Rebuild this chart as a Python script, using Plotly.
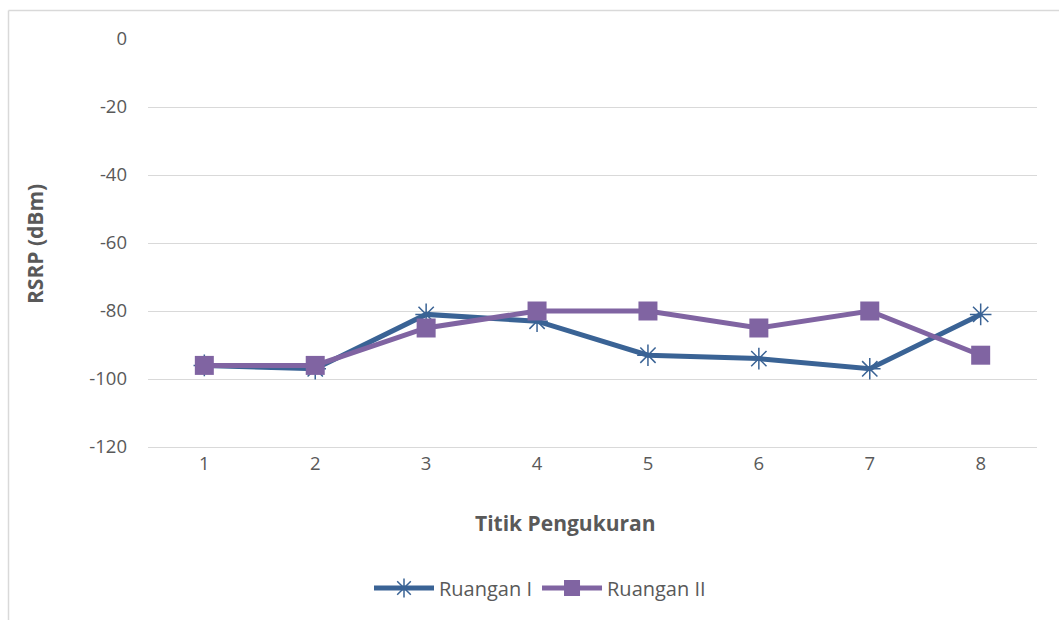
import plotly.graph_objects as go

# Measurement points and RSRP readings (dBm)
titik = ["1", "2", "3", "4", "5", "6", "7", "8"]
ruangan_1 = [-96, -97, -81, -83, -93, -94, -97, -81]
ruangan_2 = [-96, -96, -85, -80, -80, -85, -80, -93]
y_ticks = [0, -20, -40, -60, -80, -100, -120]
y_tick_text = ["0", "-20", "-40", "-60", "-80", "-100", "-120"]

W, H = 1059, 620
L, R, T, B = 148, 1037, 39, 447  # plot area in pixels

FONT = "Open Sans"
TXT = "#595959"
GRID = "#D9D9D9"
BLUE = "#3A6395"
PURPLE = "#8064A2"


def px_x(p):
    return (p - L) / (R - L)


def px_y(p):
    return (B - p) / (B - T)


fig = go.Figure()
fig.add_trace(go.Scatter(
    x=titik, y=ruangan_1, name="Ruangan I", mode="lines+markers",
    line=dict(color=BLUE, width=5),
    marker=dict(symbol="asterisk-open", size=18, color=BLUE,
                line=dict(color=BLUE, width=1.5)),
))
fig.add_trace(go.Scatter(
    x=titik, y=ruangan_2, name="Ruangan II", mode="lines+markers",
    line=dict(color=PURPLE, width=5),
    marker=dict(symbol="square", size=19, color=PURPLE),
))

fig.update_layout(
    width=W, height=H,
    margin=dict(l=L, r=W - R, t=T, b=H - B),
    paper_bgcolor="white", plot_bgcolor="white",
    font=dict(family=FONT, size=18, color=TXT),
    showlegend=True,
    legend=dict(orientation="h", x=px_x(540), xanchor="center",
                y=px_y(588), yanchor="middle",
                font=dict(family=FONT, size=20, color=TXT),
                itemwidth=60, tracegroupgap=0),
    xaxis=dict(type="category", showgrid=False, showline=True,
               linecolor=GRID, linewidth=1, ticks="",
               tickfont=dict(family=FONT, size=18.5, color=TXT)),
    yaxis=dict(range=[-120, 0], tickvals=y_ticks, ticktext=y_tick_text,
               showgrid=True, gridcolor=GRID, gridwidth=1, zeroline=False,
               showline=False, ticks="", ticklabelstandoff=20,
               tickfont=dict(family=FONT, size=18.5, color=TXT)),
)

# Axis titles
fig.add_annotation(text="<b>Titik Pengukuran</b>", xref="paper", yref="paper",
                   x=px_x(565), y=px_y(523), showarrow=False,
                   xanchor="center", yanchor="middle",
                   font=dict(family=FONT, size=21, color=TXT))
fig.add_annotation(text="<b>RSRP (dBm)</b>", xref="paper", yref="paper",
                   x=px_x(35), y=px_y(244), showarrow=False, textangle=-90,
                   xanchor="center", yanchor="middle",
                   font=dict(family=FONT, size=21, color=TXT))

# Chart area frame (left and top edges)
fig.add_shape(type="line", xref="paper", yref="paper",
              x0=px_x(8.5), y0=px_y(10.5), x1=px_x(8.5), y1=px_y(H + 5),
              line=dict(color=GRID, width=1.5))
fig.add_shape(type="line", xref="paper", yref="paper",
              x0=px_x(8.5), y0=px_y(10.5), x1=px_x(W + 5), y1=px_y(10.5),
              line=dict(color=GRID, width=1.5))

fig.write_html("out.html")
